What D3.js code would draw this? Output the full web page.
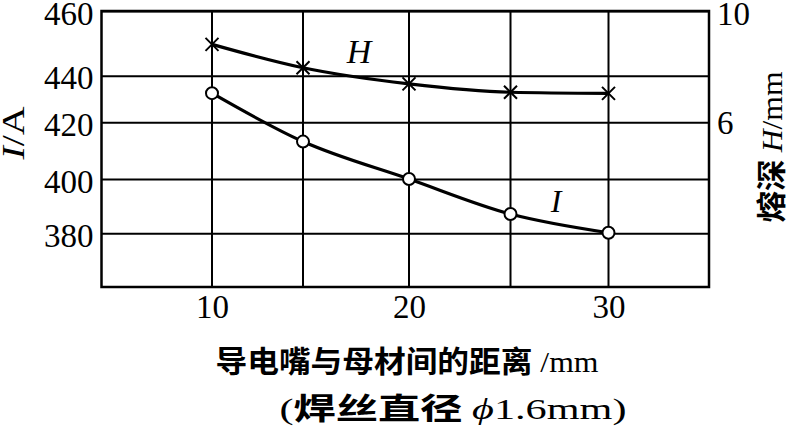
<!DOCTYPE html>
<html>
<head>
<meta charset="utf-8">
<script src="https://cdn.jsdelivr.net/npm/d3@7"></script>
<style>
  body { margin: 0; background: #fff; }
  svg { display: block; }
  text { fill: #000; }
</style>
</head>
<body>
<svg width="788" height="427"></svg>
<script>
// Data
var distance = [10, 15, 20, 25, 30];              // mm, contact tip to work distance
var current = [432.5, 413.2, 400, 387.1, 380.2];  // I / A
var depth = [8.80, 7.96, 7.38, 7.08, 7.04];       // H / mm

var xGrid = [10, 15, 20, 25, 30];
var xTicks = [10, 20, 30];
var iTicks = [380, 400, 420, 440, 460];
var hTicks = [6, 10];

var svg = d3.select("svg");
var serif = "'Liberation Serif', 'Times New Roman', serif";
var cjk = "'Noto Sans CJK SC', sans-serif";

// plot frame
var pLeft = 101.5, pRight = 709, pTop = 11, pBottom = 287;

// scales (the printed grid is slightly uneven, so piecewise)
var x = d3.scaleLinear()
    .domain([5, 10, 15, 20, 25, 30, 35])
    .range([pLeft, 212, 303, 409, 510.5, 608.5, pRight]);
var yI = d3.scaleLinear()
    .domain([360, 380, 400, 420, 440, 460])
    .range([pBottom, 233.3, 179, 122.3, 75.7, pTop]);
var yH = d3.scaleLinear()
    .domain([6, 10])
    .range([yI(420), yI(460)]);

// vertical grid
svg.append("g")
    .selectAll("line")
    .data(xGrid)
    .enter().append("line")
        .attr("x1", function (d) { return x(d); })
        .attr("x2", function (d) { return x(d); })
        .attr("y1", pTop)
        .attr("y2", pBottom)
        .attr("stroke", "#000")
        .attr("stroke-width", 2);

// left axis with horizontal grid
var gL = svg.append("g")
    .attr("transform", "translate(" + pLeft + ",0)")
    .call(d3.axisLeft(yI).tickValues(iTicks).tickSize(-(pRight - pLeft)).tickPadding(8));
gL.select(".domain").remove();
gL.selectAll(".tick line").attr("stroke", "#000").attr("stroke-width", 2);
gL.selectAll(".tick text")
    .attr("font-family", serif)
    .attr("font-size", 33)
    .attr("fill", "#000")
    .attr("dy", "0.4em");

// right axis
var gR = svg.append("g")
    .attr("transform", "translate(" + pRight + ",0)")
    .call(d3.axisRight(yH).tickValues(hTicks).tickFormat(d3.format("d")).tickSize(0).tickPadding(8));
gR.select(".domain").remove();
gR.selectAll(".tick text")
    .attr("font-family", serif)
    .attr("font-size", 33)
    .attr("fill", "#000")
    .attr("dy", function (d) { return d === 10 ? "0.4em" : "0.34em"; });

// bottom axis
var gB = svg.append("g")
    .attr("transform", "translate(0," + pBottom + ")")
    .call(d3.axisBottom(x).tickValues(xTicks).tickSize(0).tickPadding(8));
gB.select(".domain").remove();
gB.selectAll(".tick text")
    .attr("font-family", serif)
    .attr("font-size", 33)
    .attr("fill", "#000");

// frame
svg.append("rect")
    .attr("x", pLeft)
    .attr("y", pTop)
    .attr("width", pRight - pLeft)
    .attr("height", pBottom - pTop)
    .attr("fill", "none")
    .attr("stroke", "#000")
    .attr("stroke-width", 2.5);

// curves
var rowsI = distance.map(function (d, i) { return [d, current[i]]; });
var rowsH = distance.map(function (d, i) { return [d, depth[i]]; });

var lineI = d3.line()
    .x(function (d) { return x(d[0]); })
    .y(function (d) { return yI(d[1]); })
    .curve(d3.curveMonotoneX);
var lineH = d3.line()
    .x(function (d) { return x(d[0]); })
    .y(function (d) { return yH(d[1]); })
    .curve(d3.curveMonotoneX);

svg.append("path")
    .attr("d", lineH(rowsH))
    .attr("fill", "none")
    .attr("stroke", "#000")
    .attr("stroke-width", 3.2);
svg.append("path")
    .attr("d", lineI(rowsI))
    .attr("fill", "none")
    .attr("stroke", "#000")
    .attr("stroke-width", 3.2);

// markers
svg.append("g")
    .selectAll("path")
    .data(rowsH)
    .enter().append("path")
        .attr("transform", function (d) { return "translate(" + x(d[0]) + "," + yH(d[1]) + ")"; })
        .attr("d", "M-6.5,-6.5L6.5,6.5M-6.5,6.5L6.5,-6.5")
        .attr("stroke", "#000")
        .attr("stroke-width", 2);

svg.append("g")
    .selectAll("circle")
    .data(rowsI)
    .enter().append("circle")
        .attr("cx", function (d) { return x(d[0]); })
        .attr("cy", function (d) { return yI(d[1]); })
        .attr("r", 6)
        .attr("fill", "#fff")
        .attr("stroke", "#000")
        .attr("stroke-width", 2);

// curve labels
svg.append("text")
    .attr("x", 359).attr("y", 63)
    .attr("text-anchor", "middle")
    .attr("font-family", serif)
    .attr("font-style", "italic")
    .attr("font-size", 34)
    .text("H");
svg.append("text")
    .attr("x", 556).attr("y", 212)
    .attr("text-anchor", "middle")
    .attr("font-family", serif)
    .attr("font-style", "italic")
    .attr("font-size", 32)
    .text("I");

// left title
var tL = svg.append("text")
    .attr("transform", "translate(24,133) rotate(-90)")
    .attr("text-anchor", "middle")
    .attr("font-family", serif)
    .attr("font-size", 31)
    .attr("textLength", 53)
    .attr("lengthAdjust", "spacingAndGlyphs");
tL.append("tspan").attr("font-style", "italic").text("I");
tL.append("tspan").text("/A");

// right title
var tR = svg.append("text")
    .attr("transform", "translate(782,147) rotate(-90)")
    .attr("text-anchor", "middle")
    .attr("font-size", 30)
    .attr("textLength", 151)
    .attr("lengthAdjust", "spacingAndGlyphs");
tR.append("tspan").attr("font-family", cjk).attr("font-weight", "bold").text("熔深 ");
tR.append("tspan").attr("font-family", serif).attr("font-style", "italic").text("H");
tR.append("tspan").attr("font-family", serif).text("/mm");

// x titles
var t1 = svg.append("text")
    .attr("x", 407).attr("y", 372)
    .attr("text-anchor", "middle")
    .attr("font-size", 30)
    .attr("textLength", 383)
    .attr("lengthAdjust", "spacingAndGlyphs");
t1.append("tspan").attr("font-family", cjk).attr("font-weight", "bold").text("导电嘴与母材间的距离");
t1.append("tspan").attr("font-family", serif).text(" /mm");

var t2 = svg.append("text")
    .attr("x", 453).attr("y", 419)
    .attr("text-anchor", "middle")
    .attr("font-size", 30)
    .attr("textLength", 347)
    .attr("lengthAdjust", "spacingAndGlyphs");
t2.append("tspan").attr("font-family", serif).text("(");
t2.append("tspan").attr("font-family", cjk).attr("font-weight", "bold").text("焊丝直径 ");
t2.append("tspan").attr("font-family", serif).attr("font-style", "italic").text("ϕ");
t2.append("tspan").attr("font-family", serif).text("1.6mm)");
</script>
</body>
</html>
